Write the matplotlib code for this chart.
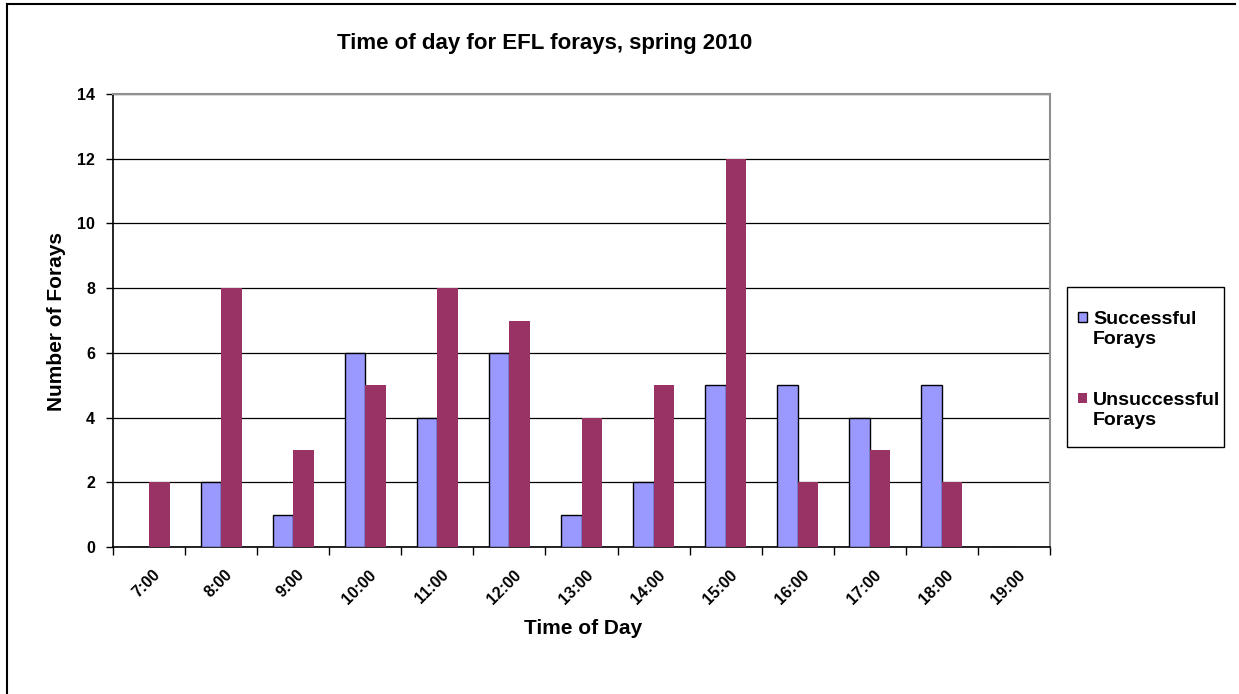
import matplotlib
matplotlib.use("Agg")
import matplotlib.pyplot as plt
import numpy as np
from matplotlib.patches import Rectangle
from matplotlib.lines import Line2D

categories = ["7:00", "8:00", "9:00", "10:00", "11:00", "12:00", "13:00",
              "14:00", "15:00", "16:00", "17:00", "18:00", "19:00"]
successful = [0, 2, 1, 6, 4, 6, 1, 2, 5, 5, 4, 5, 0]
unsuccessful = [2, 8, 3, 5, 8, 7, 4, 5, 12, 2, 3, 2, 0]
series_names = ["Successful\nForays", "Unsuccessful\nForays"]
series_colors = ['#9999FF', '#993366']
yticks = [0, 2, 4, 6, 8, 10, 12, 14]

plt.rcParams['font.family'] = ['Liberation Sans', 'DejaVu Sans']

W, H = 1239, 694
fig = plt.figure(figsize=(W / 100, H / 100), dpi=100)


def fx(px):
    return px / W


def fy(py):
    return 1 - py / H


# outer chart frame (left and top)
fig.add_artist(Line2D([fx(7), fx(7)], [0, fy(4)], color='black', lw=1.5,
                      transform=fig.transFigure))
fig.add_artist(Line2D([fx(7), fx(1235)], [fy(4), fy(4)], color='black',
                      lw=1.5, transform=fig.transFigure))

left, right, top, bottom = 113, 1050, 94, 547
ax = fig.add_axes([fx(left), fy(bottom), (right - left) / W, (bottom - top) / H])

x = np.arange(len(categories))
bw = 1 / 3.5
ax.bar(x - bw / 2, successful, width=bw, color=series_colors[0], edgecolor='black',
       linewidth=1.0, zorder=3)
ax.bar(x + bw / 2, unsuccessful, width=bw, color=series_colors[1], edgecolor='none',
       zorder=3)

ax.set_xlim(-0.5, len(categories) - 0.5)
ax.set_ylim(0, 14)
ax.set_yticks(yticks)
ax.set_yticklabels([str(v) for v in yticks], fontsize=11.5, fontweight='bold')
ax.yaxis.grid(True, color='black', lw=0.9, zorder=0)
ax.set_axisbelow(True)

ax.set_xticks(np.arange(len(categories) + 1) - 0.5)
ax.set_xticklabels([])
ax.tick_params(axis='x', length=6, width=1, direction='out')
ax.tick_params(axis='y', length=5, width=1, direction='out', pad=8)
for i, c in enumerate(categories):
    ax.text(i + 0.05, -0.62, c, rotation=45, ha='right', va='top',
            rotation_mode='anchor', fontsize=11.5, fontweight='bold',
            transform=ax.transData)

for s in ['top', 'right']:
    ax.spines[s].set_color('#909090')
    ax.spines[s].set_linewidth(1.5)
for s in ['left', 'bottom']:
    ax.spines[s].set_color('black')
    ax.spines[s].set_linewidth(1.2)

fig.text(fx(545), fy(43), "Time of day for EFL forays, spring 2010",
         ha='center', va='center', fontsize=16, fontweight='bold')
fig.text(fx(583), fy(628), "Time of Day", ha='center', va='center',
         fontsize=15, fontweight='bold')
fig.text(fx(57), fy(322), "Number of Forays", ha='center', va='center',
         rotation=90, fontsize=15, fontweight='bold')

# legend box drawn in figure pixels
fig.add_artist(Rectangle((fx(1067), fy(447)), (1224 - 1067) / W, (447 - 287) / H,
                         transform=fig.transFigure, facecolor='white',
                         edgecolor='black', lw=1.0))
for k, (name, col) in enumerate(zip(series_names, series_colors)):
    top_px = 312 + k * 81
    fig.add_artist(Rectangle((fx(1078), fy(top_px + 10)), 9 / W, 10 / H,
                             transform=fig.transFigure, facecolor=col,
                             edgecolor='black' if k == 0 else 'none', lw=1.0))
    fig.text(fx(1093), fy(top_px - 1), name, ha='left', va='top',
             fontsize=14, fontweight='bold', linespacing=1.22)

fig.savefig("out.png", dpi=100)
